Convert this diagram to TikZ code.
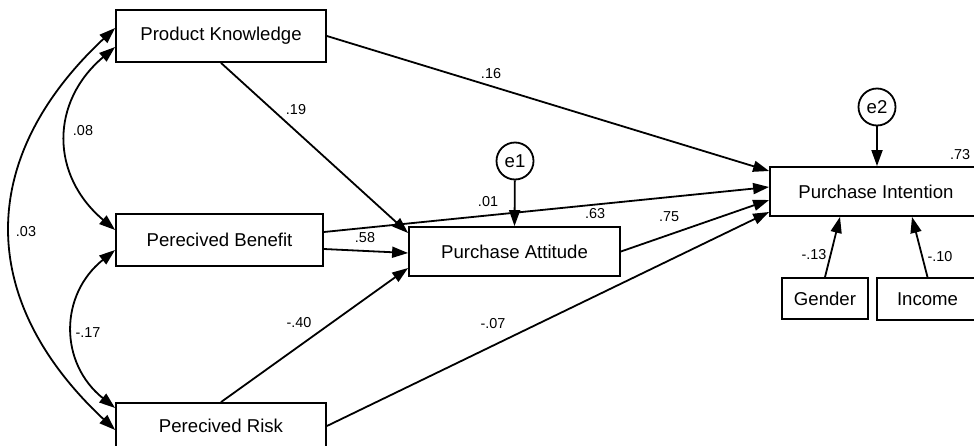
\documentclass[tikz,border=0pt]{standalone}
\usepackage{fontspec}
\setmainfont{Liberation Sans}
\usetikzlibrary{calc,arrows.meta}
\tikzset{>={Triangle[length=8pt,width=5.5pt]}}
\tikzset{
  var/.style={draw,line width=0.9pt,inner sep=0pt,font=\fontsize{9.3}{11}\selectfont},
  err/.style={draw,circle,line width=0.9pt,minimum size=18.5pt,inner sep=0pt,font=\fontsize{9.3}{11}\selectfont},
  coef/.style={inner sep=0pt,font=\fontsize{7.2}{8}\selectfont},
  effect/.style={->,line width=0.9pt},
  covar/.style={<->,line width=0.9pt}
}

\begin{document}
\begin{tikzpicture}[x=0.5pt,y=-0.5pt]
      \useasboundingbox (0,0) rectangle (974,445);
      % observed variables
      \node[var,minimum width=105pt,minimum height=26pt] (pk) at (221,36) {Product Knowledge};
      \node[var,minimum width=103.5pt,minimum height=26pt] (pb) at (219.5,240) {Perecived Benefit};
      \node[var,minimum width=105pt,minimum height=23pt] (pr) at (221,426) {Perecived Risk};
      \node[var,minimum width=105.5pt,minimum height=24.5pt] (pa) at (514.5,251.5) {Purchase Attitude};
      \node[var,minimum width=106pt,minimum height=24.5pt] (pi) at (876,191.5) {Purchase Intention};
      \node[var,minimum width=43pt,minimum height=20.5pt] (gender) at (825,298.5) {Gender};
      \node[var,minimum width=50.5pt,minimum height=21pt] (income) at (927.5,299) {Income};
      % errors
      \node[err] (e1) at (515,161) {e1};
      \node[err] (e2) at (877,107) {e2};
      % paths
      \draw[effect] (pk.east) -- ($(pi.west)+(0,-20.5)$);
      \draw[effect] (pk.south) -- ($(pa.west)+(0,-18.5)$);
      \draw[effect] ($(pb.east)+(0,-8)$) -- ($(pi.west)+(0,-4.5)$);
      \draw[effect] ($(pb.east)+(0,9)$) -- ($(pa.west)+(0,1.5)$);
      \draw[effect] (pr.north) -- ($(pa.west)+(0,16.5)$);
      \draw[effect] (pr.east) -- ($(pi.west)+(0,20.5)$);
      \draw[effect] (pa.east) -- ($(pi.west)+(0,8.5)$);
      \draw[effect] (e1) -- (pa.north);
      \draw[effect] (e2) -- ($(pi.north)+(1,0)$);
      \draw[effect] (gender.north) -- ($(pi.south)+(-36,0)$);
      \draw[effect] (income.north) -- ($(pi.south)+(36,0)$);
      % correlations
      \draw[covar] ($(pk.west)+(0,-8)$) .. controls +(-139,130) and +(-139,-130) .. ($(pr.west)+(0,4)$);
      \draw[covar] ($(pk.west)+(0,11)$) .. controls +(-65,55) and +(-65,-55) .. ($(pb.west)+(0,-10)$);
      \draw[covar] ($(pb.west)+(0,10)$) .. controls +(-56,45) and +(-56,-45) .. ($(pr.west)+(0,-18)$);
      % estimates
      \node[coef] (c16) at (491,74) {.16};
      \node[coef] (c19) at (296,110) {.19};
      \node[coef] (c01) at (488,202) {.01};
      \node[coef] (c58) at (365,238) {.58};
      \node[coef] (c40) at (299,323) {-.40};
      \node[coef] (c07) at (493,324) {-.07};
      \node[coef] (c75) at (669,217) {.75};
      \node[coef] (c63) at (595,214) {.63};
      \node[coef] (c73) at (960,155) {.73};
      \node[coef] (c13) at (814,255) {-.13};
      \node[coef] (c10) at (940,257) {-.10};
      \node[coef] (c08) at (83,131) {.08};
      \node[coef] (c17) at (88,333) {-.17};
      \node[coef] (c03) at (26,232) {.03};
\end{tikzpicture}
\end{document}
